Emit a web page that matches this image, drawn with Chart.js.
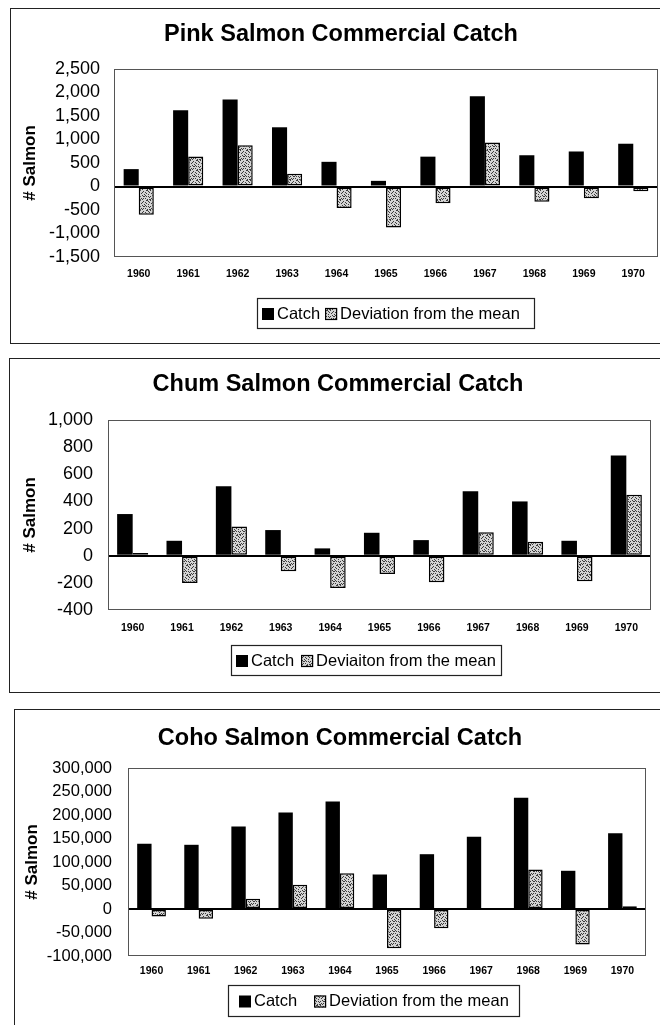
<!DOCTYPE html>
<html>
<head>
<meta charset="utf-8">
<script src="https://cdn.jsdelivr.net/npm/chart.js@4.4.1/dist/chart.umd.min.js"></script>
<style>
  html, body { margin: 0; padding: 0; background: #fff; width: 660px; height: 1025px; overflow: hidden; }
  .panel { position: absolute; box-sizing: border-box; width: 700px;
           border-left: 1.5px solid #222; border-top: 1.5px solid #222; border-bottom: 1.5px solid #222; }
  .holder { position: absolute; left: 0; width: 660px; }
  canvas { display: block; }
</style>
</head>
<body>
<div class="panel" style="left:10px; top:8px; height:336px;"></div>
<div class="panel" style="left:9px; top:358px; height:335px;"></div>
<div class="panel" style="left:14px; top:709px; height:340px;"></div>

<div class="holder" style="top:0px; height:345px;"><canvas id="pink" width="660" height="345"></canvas></div>
<div class="holder" style="top:345px; height:350px;"><canvas id="chum" width="660" height="350"></canvas></div>
<div class="holder" style="top:695px; height:330px;"><canvas id="coho" width="660" height="330"></canvas></div>

<script>
// Years shared by all three charts
const years = ['1960', '1961', '1962', '1963', '1964', '1965', '1966', '1967', '1968', '1969', '1970'];

// Pink salmon: catch and deviation from the 1960-1970 mean
const pinkCatch     = [370, 1620, 1850, 1260, 525, 120, 635, 1920, 665, 745, 910];
const pinkDeviation = [-600, 640, 880, 270, -460, -870, -355, 935, -325, -250, -100];
const pinkAxis      = [-1500, 2500, 500];   // min, max, step

// Chum salmon
const chumCatch     = [307, 110, 511, 189, 54, 169, 115, 475, 400, 110, 739];
const chumDeviation = [20, -201, 216, -115, -238, -135, -196, 172, 103, -189, 450];
const chumAxis      = [-400, 1000, 200];

// Coho salmon
const cohoCatch     = [138700, 136600, 175500, 205300, 228700, 73400, 116600, 153600, 236600, 81300, 161300];
const cohoDeviation = [-16000, -21000, 21700, 51500, 76200, -83400, -40800, -1600, 84000, -75500, 6000];
const cohoAxis      = [-100000, 300000, 50000];

const SANS = '"Liberation Sans", Arial, Helvetica, sans-serif';

// Grey speckle fill used for the deviation bars
function speckle() {
  const c = document.createElement('canvas');
  c.width = 10; c.height = 10;
  const g = c.getContext('2d');
  g.fillStyle = '#d4d4d4';
  g.fillRect(0, 0, 10, 10);
  g.fillStyle = '#3c3c3c';
  const dots = [[0,0],[3,1],[7,0],[1,3],[5,2],[9,2],[2,5],[8,4],[4,4],[0,6],[6,6],[3,8],[5,8],
                [8,1],[2,2],[4,6],[1,8],[9,7],[6,3],[7,9],[0,9],[3,6],[8,6],[6,0],[5,5],[9,9],[2,9]];
  dots.forEach(([x, y]) => g.fillRect(x, y, 1, 1));
  return g.createPattern(c, 'repeat');
}
const devFill = speckle();

// Draws the plot frame, the centred title and the boxed legend
const chrome = {
  id: 'chrome',
  beforeDatasetsDraw(chart) {
    const a = chart.chartArea, ctx = chart.ctx;
    ctx.save();
    ctx.strokeStyle = '#555';
    ctx.lineWidth = 1;
    ctx.strokeRect(Math.round(a.left) + 0.5, Math.round(a.top) + 0.5,
                   Math.round(a.width) - 1, Math.round(a.height) - 1);
    ctx.restore();
  },
  afterDraw(chart, args, o) {
    const ctx = chart.ctx;
    ctx.save();
    ctx.fillStyle = '#000';
    ctx.font = 'bold 23.5px ' + SANS;
    ctx.textAlign = 'center';
    ctx.textBaseline = 'middle';
    ctx.fillText(o.title, o.titleX, o.titleY);

    // legend box
    const [bx0, by0, bx1, by1] = o.legendBox;
    ctx.strokeStyle = '#222';
    ctx.lineWidth = 1.2;
    ctx.strokeRect(bx0 + 0.5, by0 + 0.5, bx1 - bx0, by1 - by0);
    ctx.font = '16.5px ' + SANS;
    ctx.textAlign = 'left';
    const cy = (by0 + by1) / 2 + 1;
    let x = o.legendStart;
    chart.data.datasets.forEach((ds) => {
      const s = 12;
      ctx.fillStyle = ds.backgroundColor;
      ctx.fillRect(x, cy - s / 2, s, s);
      if (ds.borderWidth) {
        ctx.strokeStyle = '#000';
        ctx.lineWidth = 1.2;
        ctx.strokeRect(x + 0.5, cy - s / 2 + 0.5, s - 1, s - 1);
      }
      x += s + 3;
      ctx.fillStyle = '#000';
      ctx.fillText(ds.label, x, cy);
      x += ctx.measureText(ds.label).width + o.legendGap;
    });
    ctx.restore();
  }
};

function salmonChart(id, catchData, devData, devLabel, axis, lay) {
  return new Chart(document.getElementById(id), {
    type: 'bar',
    data: {
      labels: years,
      datasets: [
        { label: 'Catch', data: catchData, backgroundColor: '#000', borderWidth: 0,
          categoryPercentage: lay.cat, barPercentage: 1 },
        { label: devLabel, data: devData, backgroundColor: devFill, borderColor: '#000',
          borderWidth: 1.5, borderSkipped: false, categoryPercentage: lay.cat, barPercentage: 1 }
      ]
    },
    options: {
      responsive: false,
      animation: false,
      events: [],
      layout: { padding: lay.pad },
      plugins: {
        legend: { display: false },
        title: { display: false },
        tooltip: { enabled: false },
        chrome: lay.chrome
      },
      scales: {
        x: {
          grid: { display: false, drawTicks: false },
          border: { display: false },
          ticks: { color: '#000', padding: lay.xPad, maxRotation: 0, autoSkip: false,
                   font: { family: SANS, size: 10.5, weight: 'bold' } },
          afterFit: s => { s.height = 30; }
        },
        y: {
          min: axis[0], max: axis[1],
          ticks: { stepSize: axis[2], color: '#000', padding: lay.yPad, autoSkip: false,
                   font: { family: SANS, size: lay.tickSize },
                   callback: v => v.toLocaleString('en-US') },
          grid: { drawTicks: false, lineWidth: 2,
                  color: c => (c.tick && c.tick.value === 0) ? '#000' : 'rgba(0,0,0,0)' },
          border: { display: false },
          title: { display: true, text: '# Salmon', color: '#000',
                   font: { family: SANS, size: 17, weight: 'bold' },
                   padding: { top: lay.titlePad, bottom: 0 } },
          afterFit: s => { s.width = lay.yWidth; }
        }
      }
    },
    plugins: [chrome]
  });
}

salmonChart('pink', pinkCatch, pinkDeviation, 'Deviation from the mean', pinkAxis, {
  cat: 0.61, pad: { top: 69, right: 2, bottom: 58, left: 0 },
  yWidth: 114, yPad: 14, xPad: 11, tickSize: 18, titlePad: 20,
  chrome: { title: 'Pink Salmon Commercial Catch', titleX: 341, titleY: 35,
            legendBox: [257, 298, 534, 328], legendStart: 262, legendGap: 5 }
});

salmonChart('chum', chumCatch, chumDeviation, 'Deviaiton from the mean', chumAxis, {
  cat: 0.63, pad: { top: 75, right: 9, bottom: 55, left: 0 },
  yWidth: 108, yPad: 15, xPad: 12, tickSize: 18, titlePad: 20,
  chrome: { title: 'Chum Salmon Commercial Catch', titleX: 338, titleY: 40,
            legendBox: [231, 300, 501, 330], legendStart: 236, legendGap: 7 }
});

salmonChart('coho', cohoCatch, cohoDeviation, 'Deviation from the mean', cohoAxis, {
  cat: 0.61, pad: { top: 73, right: 14, bottom: 39, left: 0 },
  yWidth: 128, yPad: 16, xPad: 9, tickSize: 16.5, titlePad: 22,
  chrome: { title: 'Coho Salmon Commercial Catch', titleX: 340, titleY: 44,
            legendBox: [228, 290, 519, 321], legendStart: 239, legendGap: 17 }
});
</script>
</body>
</html>
